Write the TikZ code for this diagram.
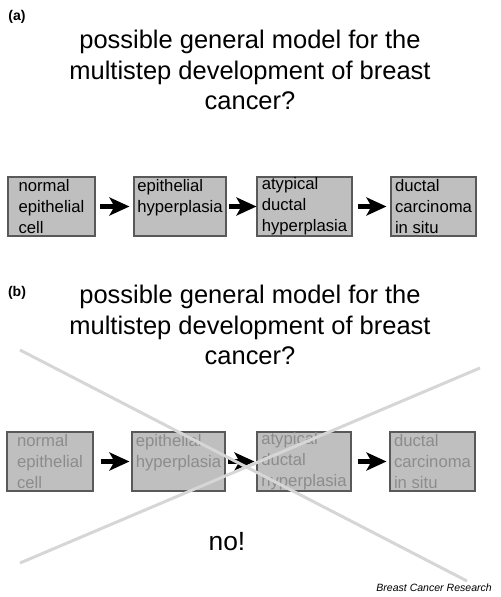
\documentclass[tikz,border=0pt]{standalone}
\usepackage{fontspec}
\setmainfont{Liberation Sans}
\usetikzlibrary{arrows.meta}

\tikzset{
  stage/.style={draw=black!65, fill=black!25, line width=0.6pt, align=left,
    minimum height=1.18cm, inner xsep=0pt, inner ysep=0pt, font=\fontsize{9.5}{12}\selectfont},
  faded/.style={stage, text=black!45},
  heading/.style={align=center, font=\fontsize{14.5}{17.5}\selectfont},
  fatarrow/.style={line width=2.4pt, -{Stealth[length=0.4cm, width=0.36cm, inset=0.1cm]}},
  crossline/.style={draw=black!16, line width=0.06cm}
}

\begin{document}
\begin{tikzpicture}[x=0.02cm, y=-0.02cm]
  \useasboundingbox (0,0) rectangle (500,597);

  % panel (a)
  \node[font=\bfseries\fontsize{8}{9}\selectfont] (labelA) at (17,17) {(a)};
  \node[heading] (titleA) at (250,70) {possible general model for the\\multistep development of breast\\cancer?};

  \node[stage, minimum width=1.74cm] (normalA) at (51.5,206.5) {normal\\epithelial\\cell};
  \node[stage, minimum width=1.84cm] (hyperA) at (180,206.5) {epithelial\\hyperplasia\\\mbox{}};
  \node[stage, minimum width=1.90cm] (atypA) at (304.5,206.5) {atypical\\ductal\\hyperplasia};
  \node[stage, minimum width=1.70cm] (dcisA) at (433.5,206.5) {ductal\\carcinoma\\in situ};

  \draw[fatarrow, shorten <=0.08cm, shorten >=0.08cm] (normalA) -- (hyperA);
  \draw[fatarrow, shorten <=0.04cm] (hyperA) -- (atypA);
  \draw[fatarrow, shorten <=0.1cm, shorten >=0.08cm] (atypA) -- (dcisA);

  % panel (b)
  \node[font=\bfseries\fontsize{8}{9}\selectfont] (labelB) at (17,293) {(b)};
  \node[heading] (titleB) at (250,325) {possible general model for the\\multistep development of breast\\cancer?};

  \node[faded, minimum width=1.72cm] (normalB) at (50,461.5) {normal\\epithelial\\cell};
  \node[faded, minimum width=1.86cm] (hyperB) at (178.5,461.5) {epithelial\\hyperplasia\\\mbox{}};
  \node[faded, minimum width=1.88cm] (atypB) at (304,461.5) {atypical\\ductal\\hyperplasia};
  \node[faded, minimum width=1.70cm] (dcisB) at (432.5,461.5) {ductal\\carcinoma\\in situ};

  \draw[fatarrow, shorten <=0.14cm, shorten >=0.04cm] (normalB) -- (hyperB);
  \draw[fatarrow, shorten <=0.04cm, shorten >=0.04cm] (hyperB) -- (atypB);
  \draw[fatarrow, shorten <=0.12cm, shorten >=0.06cm] (atypB) -- (dcisB);

  % crossed out
  \coordinate (crossA1) at (20,350);
  \coordinate (crossA2) at (467,581);
  \coordinate (crossB1) at (20,563);
  \coordinate (crossB2) at (480,368);
  \draw[crossline] (crossA1) -- (crossA2);
  \draw[crossline] (crossB1) -- (crossB2);

  \node[font=\fontsize{15}{18}\selectfont] (verdict) at (227,542) {no!};
  \node[anchor=east, font=\itshape\fontsize{6}{7}\selectfont] (credit) at (498,588) {Breast Cancer Research};
\end{tikzpicture}
\end{document}
